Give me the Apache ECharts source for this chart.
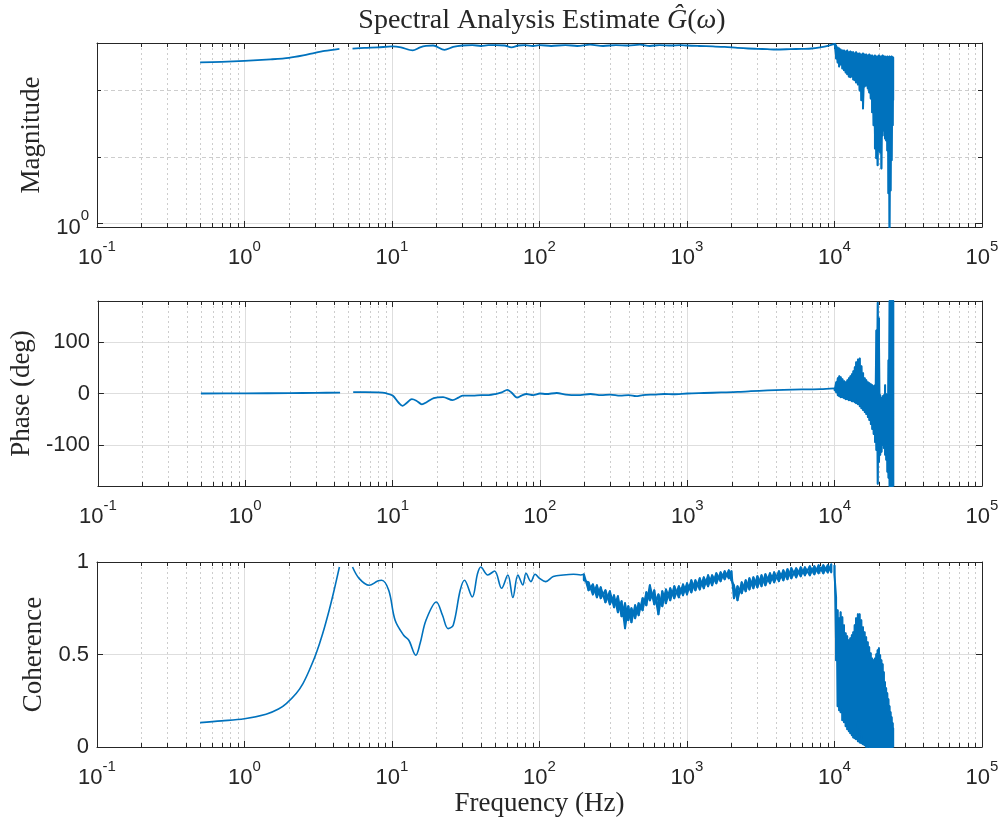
<!DOCTYPE html>
<html><head><meta charset="utf-8">
<script src="https://cdn.jsdelivr.net/npm/echarts@6.0.0/dist/echarts.min.js"></script>
<style>html,body{margin:0;padding:0;background:#fff}#c{width:1005px;height:823px}</style>
</head><body><div id="c"></div>
<script>
// ---------------- DATA ----------------
const xLimits = [0.1, 100000];
const xDecades = [0.1, 1, 10, 100, 1000, 10000];
const xMinorMult = [2, 3, 4, 5, 6, 7, 8, 9];
const magLimits = [0.9884, 1.861];
const magMinorY = [1.2589, 1.5849];
const phaseLimits = [-180, 180];
const cohLimits = [0, 1];

// Magnitude (smooth part, null = gap)
const magF = [0.5,0.7,1,1.5,2,2.5,3,3.5,4.4,5,5.4,6.5,8,10,11.5,13.8,15.5,17,19,22.7,26,30,35,40,45,50,58,64.5,72,80,90,100,120,150,180,220,270,330,400,480,560,650,780,900,1000,1200,1500,1800,2200,2600,3000,3500,4000,5000,6000,7000,8000,9000,10000];
const magV = [1.741,1.744,1.750,1.759,1.768,1.783,1.799,1.811,1.824,null,1.825,1.830,1.833,1.839,1.833,1.814,1.833,1.842,1.845,1.818,1.836,1.845,1.848,1.842,1.848,1.848,1.845,1.833,1.845,1.848,1.842,1.848,1.842,1.848,1.842,1.851,1.842,1.848,1.845,1.851,1.842,1.848,1.845,1.848,1.845,1.842,1.839,1.836,1.830,1.826,1.824,1.822,1.820,1.822,1.824,1.826,1.833,1.842,1.855];

// Phase (smooth part)
const phF = [0.5,1,2,3,4.4,5,5.4,6.5,8,9,10,11,11.7,12.5,13.5,14.5,15.8,17,19,22,25.5,28,30,35,40,45,50,55,60,64,70,75,81,90,100,110,130,150,180,220,260,300,350,400,450,500,600,700,800,1000,1300,1700,2200,2700,3500,4500,6000,8000,10000];
const phV = [0,0.3,0.8,1.2,1.8,null,2.5,2.6,2.2,0.5,-4,-18,-24,-18,-11,-14,-21,-17,-9,-7,-13,-8,-4,-4,-3,-3,-1,2,7,2,-8,-4,-1,-3,0,-1,1,-2,-3,-1,-3,-2,-4,-3,-5,-3,-2,-1,-1.5,0,1,2,3,4.5,6,7,8,8.5,10];

// Coherence (smooth part)
const cohF = [0.5,0.7,1,1.4,1.7,1.92,2.24,2.49,2.75,3.06,3.39,3.75,4.05,4.4,5,5.4,6,7,8,8.5,9.5,10.5,12,13,14.5,15.5,17,20,22,24,26,29,31,35,38,40,44.6,49.6,55.3,61,66,71.4,77,81,87.4,93.4,100,110,124,145,170,190,200];
const cohV = [0.132,0.141,0.153,0.177,0.205,0.235,0.289,0.343,0.415,0.505,0.613,0.739,0.847,0.973,null,0.973,0.910,0.874,0.897,0.901,0.847,0.685,0.604,0.577,0.496,0.559,0.685,0.784,0.712,0.640,0.658,0.847,0.901,0.811,0.937,0.973,0.930,0.951,0.858,0.930,0.808,0.930,0.876,0.939,0.894,0.934,0.912,0.894,0.921,0.930,0.934,0.930,0.934];

// Coherence noisy band 200 Hz - 10 kHz (upper / lower envelope)
const cohMidF  = [200,215,230,245,260,280,300,320,340,360,380,400,420,445,470,500,530,560,600,640,680,720,770,820,880,940,1000,1070,1140,1220,1300,1390,1480,1580,1690,1800,1920,2000,2080,2200,2350,2500,2650,2820,3000,3200,3400,3650,3900,4200,4500,4800,5100,5500,5900,6300,6800,7300,7800,8400,9000,9500];
const cohMidHi = [0.934,0.890,0.879,0.874,0.863,0.847,0.842,0.820,0.815,0.788,0.777,0.761,0.750,0.766,0.777,0.804,0.836,0.874,0.847,0.825,0.842,0.852,0.858,0.869,0.869,0.879,0.885,0.901,0.901,0.912,0.917,0.928,0.928,0.939,0.944,0.950,0.955,0.950,0.874,0.869,0.890,0.901,0.912,0.917,0.923,0.928,0.934,0.939,0.944,0.950,0.955,0.961,0.966,0.966,0.971,0.971,0.977,0.977,0.982,0.982,0.982,0.988];
const cohMidLo = [0.901,0.847,0.825,0.809,0.804,0.782,0.771,0.755,0.728,0.707,0.642,0.685,0.674,0.696,0.712,0.739,0.766,0.793,0.771,0.717,0.761,0.777,0.793,0.804,0.809,0.820,0.825,0.836,0.847,0.852,0.858,0.869,0.874,0.885,0.896,0.907,0.912,0.901,0.804,0.793,0.831,0.842,0.852,0.858,0.863,0.869,0.874,0.885,0.890,0.896,0.901,0.907,0.912,0.917,0.923,0.928,0.928,0.934,0.939,0.939,0.944,0.944];

// High-frequency noisy region 10 kHz - 25 kHz (upper / lower envelopes)
const hiF = [10000,10250,10500,10750,11000,11300,11600,11900,12200,12500,12800,13100,13400,13700,14000,14400,14800,15200,15600,16000,16400,16800,17200,17600,18000,18400,18800,19200,19600,20000,20400,20800,21200,21600,22000,22400,22800,23200,23600,24000,24400,24800,25000];
const magHi = [1.858,1.845,1.833,1.826,1.820,1.814,1.814,1.808,1.814,1.802,1.808,1.802,1.802,1.795,1.802,1.795,1.795,1.789,1.795,1.789,1.789,1.783,1.789,1.783,1.783,1.777,1.783,1.777,1.777,1.783,1.777,1.777,1.783,1.777,1.777,1.771,1.777,1.771,1.777,1.771,1.777,1.771,1.771];
const magLo = [1.852,1.765,1.741,1.717,1.729,1.705,1.694,1.682,1.671,1.659,1.654,1.659,1.642,1.637,1.625,1.614,1.581,1.528,1.486,1.603,1.608,1.592,1.570,1.538,1.466,1.402,1.295,1.252,1.222,1.286,1.277,1.209,1.354,1.377,1.340,1.331,1.286,1.110,0.977,1.121,1.243,1.402,1.528];
const phHi = [10.3,21.9,29.6,33.5,31.6,27.7,23.8,21.9,25.8,29.6,33.5,37.4,43.2,50.9,60.6,66.4,68.3,52.9,39.3,29.6,25.8,21.9,19.9,18.0,16.1,14.1,16.1,122.6,176.8,145.8,-3.3,-9.1,-5.2,-3.3,16.1,-1.4,-5.2,64.5,180,180,180,180,180];
const phLo = [6.4,2.5,-3.3,-5.2,-7.2,-7.2,-9.1,-11.0,-11.0,-13.0,-13.0,-14.9,-14.9,-16.8,-18.8,-20.7,-24.6,-28.5,-32.3,-36.2,-40.1,-45.9,-51.7,-59.4,-69.1,-78.7,-94.3,-109.8,-175.6,-132.9,-119.3,-113.5,-100.1,-105.9,-119.3,-129.1,-152.3,-163.9,-180,-180,-180,-180,-180];
const cohHi = [0.982,0.809,0.739,0.696,0.728,0.701,0.658,0.615,0.598,0.577,0.588,0.604,0.620,0.658,0.696,0.717,0.717,0.685,0.647,0.620,0.593,0.566,0.539,0.507,0.479,0.469,0.479,0.501,0.523,0.534,0.496,0.469,0.447,0.404,0.350,0.317,0.290,0.258,0.220,0.188,0.161,0.128,0.101];
const cohLo = [0.928,0.469,0.220,0.199,0.188,0.144,0.134,0.112,0.096,0.085,0.074,0.063,0.052,0.047,0.042,0.031,0.025,0.020,0.015,0.009,0,0,0,0,0,0,0,0,0,0,0,0,0,0,0,0,0,0,0,0,0,0,0];

// ---------------- STYLE ----------------
const SANS = '"Liberation Sans", Arial, Helvetica, sans-serif';
const SERIF = '"Liberation Serif", "Times New Roman", serif';
const INK = '#262626';
const BLUE = '#0072BD';
const GRID = '#dedede';
const MINOR = '#cdcdcd';

function lineData(fs, vs) { return fs.map((f, i) => [f, vs[i] === null ? '-' : vs[i]]); }
// zig-zag between upper and lower envelope; 'rev' swaps the order so two passes cross each other
function bandData(fs, hi, lo, rev) {
  const out = [];
  fs.forEach((f, i) => {
    if (rev) { out.push([f, lo[i]]); out.push([f, hi[i]]); }
    else { out.push([f, hi[i]]); out.push([f, lo[i]]); }
  });
  return out;
}

const xMinor = [];
xDecades.forEach(d => xMinorMult.forEach(m => xMinor.push(+(d * m).toPrecision(6))));

function xMinorRender(params, api) {
  const cs = params.coordSys;
  const x = Math.round(api.coord([api.value(0), api.value(1)])[0]) + 0.5;
  const top = cs.y, bot = cs.y + cs.height;
  return { type: 'group', children: [
    { type: 'line', shape: { x1: x, y1: top, x2: x, y2: bot }, style: { stroke: MINOR, lineWidth: 1, lineDash: [2, 3] } },
    { type: 'line', shape: { x1: x, y1: bot, x2: x, y2: bot - 4 }, style: { stroke: INK, lineWidth: 1 } },
    { type: 'line', shape: { x1: x, y1: top, x2: x, y2: top + 4 }, style: { stroke: INK, lineWidth: 1 } }
  ]};
}
function yMinorRender(params, api) {
  const cs = params.coordSys;
  const y = Math.round(api.coord([api.value(0), api.value(1)])[1]) + 0.5;
  const l = cs.x, r = cs.x + cs.width;
  return { type: 'group', children: [
    { type: 'line', shape: { x1: l, y1: y, x2: r, y2: y }, style: { stroke: MINOR, lineWidth: 1, lineDash: [4, 3] } },
    { type: 'line', shape: { x1: l, y1: y, x2: l + 4, y2: y }, style: { stroke: INK, lineWidth: 1 } },
    { type: 'line', shape: { x1: r, y1: y, x2: r - 4, y2: y }, style: { stroke: INK, lineWidth: 1 } }
  ]};
}

const supRich = {
  b: { fontFamily: SANS, fontSize: 22, color: INK, lineHeight: 30, verticalAlign: 'bottom' },
  s: { fontFamily: SANS, fontSize: 15, color: INK, lineHeight: 20, verticalAlign: 'top' }
};

const grids = [
  { left: 97, top: 43, width: 885, height: 184 },
  { left: 97, top: 301, width: 885, height: 185 },
  { left: 97, top: 562, width: 885, height: 185 }
];
const axisLine = { show: true, onZero: false, lineStyle: { color: INK, width: 1 } };
const tick = { show: true, inside: true, length: 6, lineStyle: { color: INK, width: 1 } };

const xAxes = [], yAxes = [];
for (let g = 0; g < 3; g++) {
  xAxes.push({
    type: 'log', logBase: 10, gridIndex: g, min: xLimits[0], max: xLimits[1], position: 'bottom',
    axisLine, axisTick: tick,
    axisLabel: { show: true, margin: 12, showMinLabel: true, showMaxLabel: true,
      formatter: v => '{b|10}{s|' + Math.round(Math.log10(v)) + '}', rich: supRich },
    splitLine: { show: true, lineStyle: { color: GRID, width: 1 } },
    name: g === 2 ? 'Frequency (Hz)' : '', nameLocation: 'middle', nameGap: 43,
    nameTextStyle: { fontFamily: SERIF, fontSize: 27, color: INK }
  });
  xAxes.push({
    type: 'log', logBase: 10, gridIndex: g, min: xLimits[0], max: xLimits[1], position: 'top',
    axisLine, axisTick: tick, axisLabel: { show: false }, splitLine: { show: false }
  });
}
const yCfg = [
  { type: 'log', logBase: 10, min: magLimits[0], max: magLimits[1], name: 'Magnitude', nameGap: 50,
    formatter: v => (Math.abs(Math.log10(v)) < 1e-6 ? '{b|10}{s|0}' : '') },
  { type: 'value', min: phaseLimits[0], max: phaseLimits[1], name: 'Phase (deg)', nameGap: 60,
    formatter: v => (Math.abs(v) >= 180 ? '' : String(v)) },
  { type: 'value', min: cohLimits[0], max: cohLimits[1], interval: 0.5, name: 'Coherence', nameGap: 44,
    formatter: v => String(v) }
];
yCfg.forEach((c, g) => {
  const base = { type: c.type, gridIndex: g, min: c.min, max: c.max };
  if (c.logBase) base.logBase = c.logBase;
  if (c.interval) base.interval = c.interval;
  yAxes.push(Object.assign({}, base, {
    position: 'left', axisLine, axisTick: tick,
    axisLabel: { show: true, margin: 8, fontFamily: SANS, fontSize: 22, color: INK, formatter: c.formatter, rich: supRich,
      showMinLabel: true, showMaxLabel: true },
    splitLine: { show: true, lineStyle: { color: GRID, width: 1 } },
    name: c.name, nameLocation: 'middle', nameRotate: 90, nameGap: c.nameGap,
    nameTextStyle: { fontFamily: SERIF, fontSize: 27, color: INK }
  }));
  yAxes.push(Object.assign({}, base, {
    position: 'right', axisLine, axisTick: tick, axisLabel: { show: false }, splitLine: { show: false }
  }));
});

const yRef = [1.2, 0, 0.5];
const series = [];
for (let g = 0; g < 3; g++) {
  series.push({ type: 'custom', xAxisIndex: 2 * g, yAxisIndex: 2 * g, silent: true, z: 1,
    renderItem: xMinorRender, data: xMinor.map(v => [v, yRef[g]]) });
}
series.push({ type: 'custom', xAxisIndex: 0, yAxisIndex: 0, silent: true, z: 1,
  renderItem: yMinorRender, data: magMinorY.map(v => [1, v]) });

function dataLine(g, data, w, smooth) {
  return { type: 'line', xAxisIndex: 2 * g, yAxisIndex: 2 * g, data, showSymbol: false, symbol: 'none',
    connectNulls: false, clip: true, z: 3, smooth: smooth || false,
    lineStyle: { color: BLUE, width: w, join: 'round' }, itemStyle: { color: BLUE } };
}
series.push(dataLine(0, lineData(magF, magV), 1.8, 0.3));
series.push(dataLine(0, bandData(hiF, magHi, magLo), 2));
series.push(dataLine(0, bandData(hiF, magHi, magLo, true), 1.5));
series.push(dataLine(1, lineData(phF, phV), 1.8, 0.3));
series.push(dataLine(1, bandData(hiF, phHi, phLo), 2));
series.push(dataLine(1, bandData(hiF, phHi, phLo, true), 1.5));
series.push(dataLine(2, lineData(cohF, cohV), 1.6, 0.35));
series.push(dataLine(2, bandData(cohMidF, cohMidHi, cohMidLo), 2));
series.push(dataLine(2, bandData(cohMidF, cohMidHi, cohMidLo, true), 2));
series.push(dataLine(2, bandData(hiF, cohHi, cohLo), 2));
series.push(dataLine(2, bandData(hiF, cohHi, cohLo, true), 1.5));

const chart = echarts.init(document.getElementById('c'), null, { renderer: 'canvas' });
chart.setOption({
  animation: false,
  backgroundColor: '#ffffff',
  title: {
    text: 'Spectral Analysis Estimate {i|Ĝ}({i|ω})', left: 537, top: 2, textAlign: 'center',
    textStyle: { fontFamily: SERIF, fontSize: 28, fontWeight: 'normal', color: INK,
      rich: { i: { fontFamily: SERIF, fontSize: 28, fontStyle: 'italic', color: INK } } }
  },
  grid: grids,
  xAxis: xAxes,
  yAxis: yAxes,
  series
});
</script></body></html>
